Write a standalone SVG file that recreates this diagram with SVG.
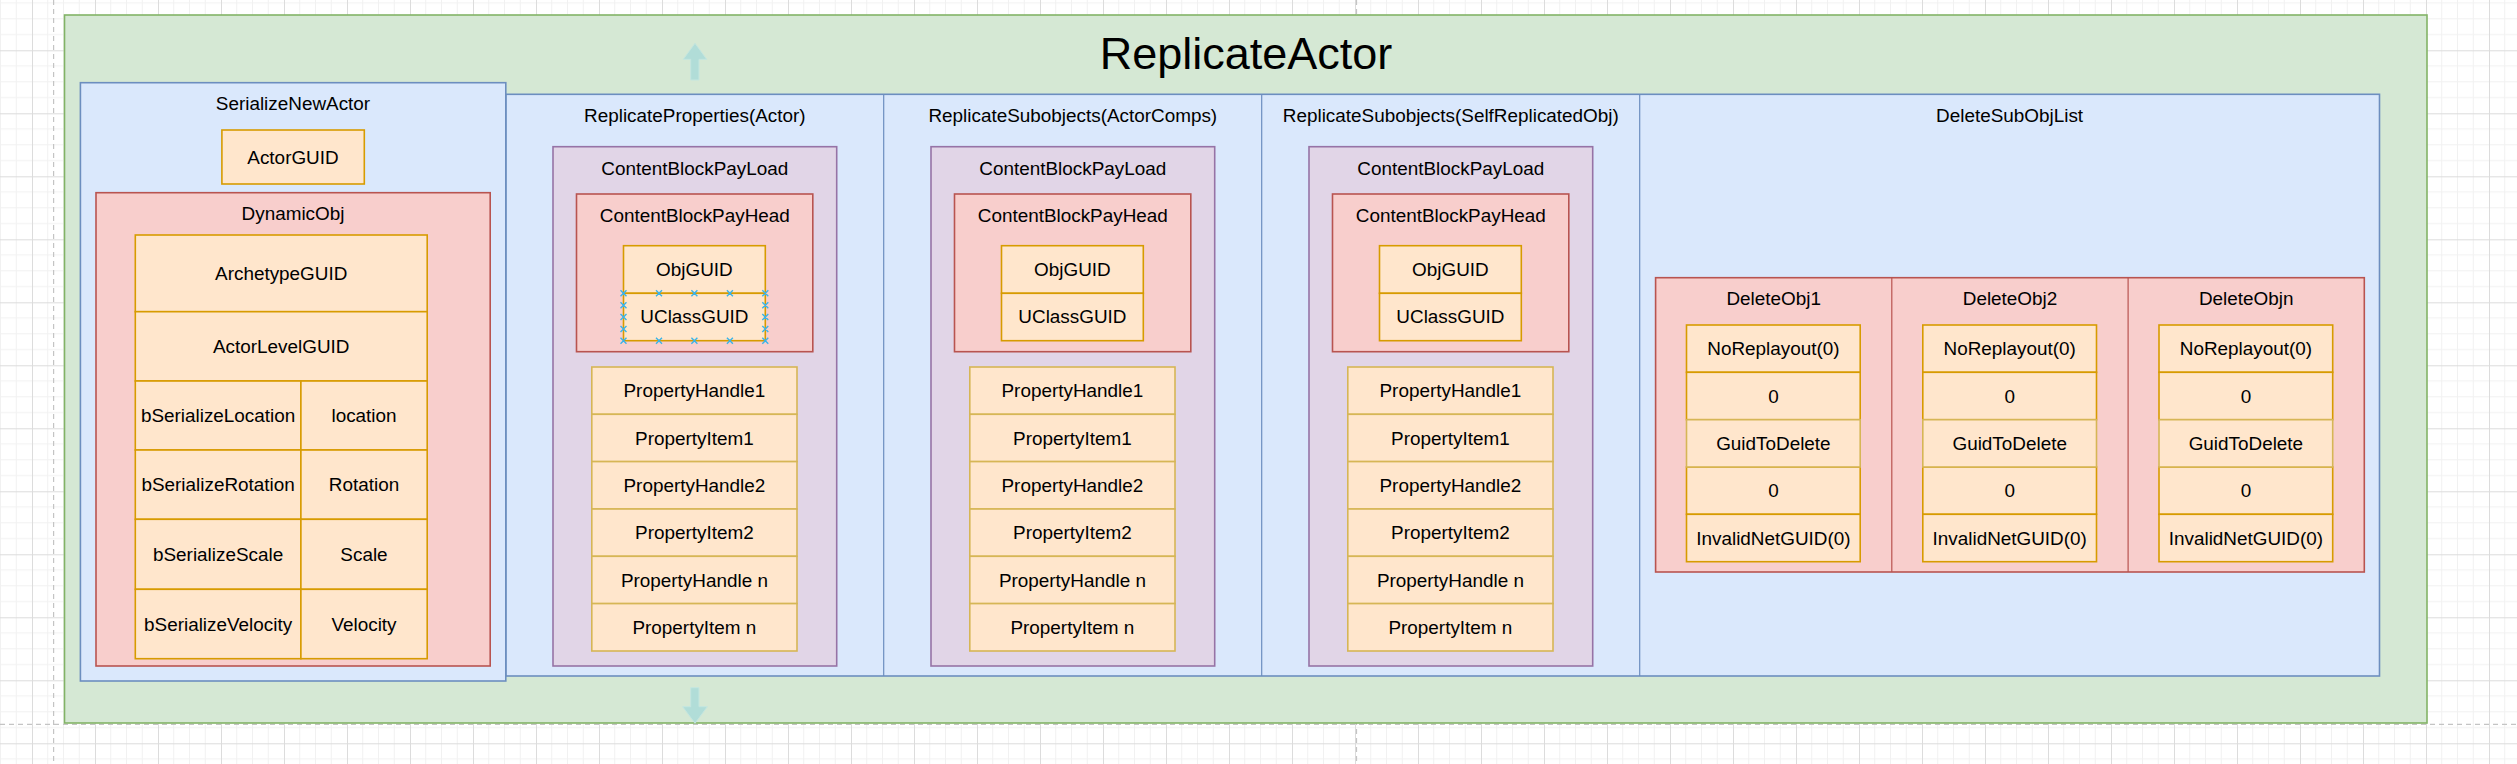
<svg xmlns="http://www.w3.org/2000/svg" width="2517" height="764" viewBox="0 0 2517 764">
<style>
text{font-family:"Liberation Sans",Arial,Helvetica,sans-serif;font-size:18.9px;fill:#000;text-anchor:middle}
.t{font-size:45px}
.g{fill:#d5e8d4;stroke:#82b366;stroke-width:1.6}
.b{fill:#dae8fc;stroke:#6c8ebf;stroke-width:1.6}
.bl{fill:none;stroke:#6c8ebf;stroke-width:1.2}
.p{fill:#e1d5e7;stroke:#9673a6;stroke-width:1.6}
.r{fill:#f8cecc;stroke:#b85450;stroke-width:1.6}
.rl{fill:none;stroke:#b85450;stroke-width:1.2}
.o{fill:#ffe6cc;stroke:#d79b00;stroke-width:1.6}
.y{fill:#ffe6cc;stroke:#d6b656;stroke-width:1.6}
.ar{fill:#b1ddd8;stroke:#c4e6e0;stroke-width:1}
.mk{fill:none;stroke:#3bb4e8;stroke-width:1.4}
.dash{stroke:#c4c4c4;stroke-width:1.2;stroke-dasharray:5 4;fill:none}
</style>
<defs>
<pattern id="grid" patternUnits="userSpaceOnUse" x="32" y="50.3" width="63" height="63">
<path d="M15.75 0V63M31.5 0V63M47.25 0V63M0 15.75H63M0 31.5H63M0 47.25H63" stroke="#f1f1f1" stroke-width="1" fill="none"/>
<path d="M0.5 0V63M0 0.5H63" stroke="#dcdcdc" stroke-width="1" fill="none"/>
</pattern>
</defs>
<rect width="2517" height="764" fill="#ffffff"/>
<rect width="2517" height="764" fill="url(#grid)"/>
<path class="dash" d="M53.6 0V764M1356.5 0V764M0 724.3H2517"/>

<g id="ReplicateActor">
<rect class="g" x="64.5" y="15" width="2362.5" height="708"/>
<text class="t" x="1246" y="69">ReplicateActor</text>
</g>

<g id="arrows">
<path class="ar" d="M695 43.3L706.7 59.3H699V80H690.7V59.3H683.3Z"/>
<path class="ar" d="M695 723.3L707.3 706.7H699V687.7H690.7V706.7H682.7Z"/>
</g>

<g id="ReplicateLists">
<rect class="b" x="505.8" y="94.3" width="1873.7" height="581.7"/>
<path class="bl" d="M883.7 94.3V676M1261.7 94.3V676M1639.7 94.3V676"/>
<text x="694.8" y="122">ReplicateProperties(Actor)</text>
<text x="1072.8" y="122">ReplicateSubobjects(ActorComps)</text>
<text x="1450.8" y="122">ReplicateSubobjects(SelfReplicatedObj)</text>
<text x="2009.6" y="122">DeleteSubObjList</text>
</g>

<g id="SerializeNewActor">
<rect class="b" x="80.4" y="82.7" width="425.4" height="598.3"/>
<text x="293" y="110">SerializeNewActor</text>
<rect class="o" x="221.9" y="130" width="142.4" height="54"/>
<text x="293" y="163.5">ActorGUID</text>
</g>

<g id="DynamicObj">
<rect class="r" x="96" y="192.7" width="394.2" height="473.3"/>
<text x="293" y="220">DynamicObj</text>
<rect class="o" x="135.3" y="235" width="291.9" height="76.7"/>
<text x="281.2" y="279.8">ArchetypeGUID</text>
<rect class="o" x="135.3" y="311.7" width="291.9" height="69.3"/>
<text x="281.2" y="352.8">ActorLevelGUID</text>
<rect class="o" x="135.3" y="381" width="165.6" height="69"/>
<rect class="o" x="300.9" y="381" width="126.3" height="69"/>
<text x="218.1" y="422">bSerializeLocation</text>
<text x="364" y="422">location</text>
<rect class="o" x="135.3" y="450" width="165.6" height="69.3"/>
<rect class="o" x="300.9" y="450" width="126.3" height="69.3"/>
<text x="218.1" y="491.2">bSerializeRotation</text>
<text x="364" y="491.2">Rotation</text>
<rect class="o" x="135.3" y="519.3" width="165.6" height="70"/>
<rect class="o" x="300.9" y="519.3" width="126.3" height="70"/>
<text x="218.1" y="560.8">bSerializeScale</text>
<text x="364" y="560.8">Scale</text>
<rect class="o" x="135.3" y="589.3" width="165.6" height="69.4"/>
<rect class="o" x="300.9" y="589.3" width="126.3" height="69.4"/>
<text x="218.1" y="630.5">bSerializeVelocity</text>
<text x="364" y="630.5">Velocity</text>
</g>

<g id="PayLoad1">
<rect class="p" x="553" y="146.7" width="283.7" height="519.3"/>
<text x="694.8" y="175">ContentBlockPayLoad</text>
<rect class="r" x="576.5" y="194" width="236.3" height="157.7"/>
<text x="694.8" y="222.3">ContentBlockPayHead</text>
<rect class="o" x="623.5" y="245.7" width="141.8" height="47.6"/>
<text x="694.4" y="276">ObjGUID</text>
<rect class="o" x="623.5" y="293.3" width="141.8" height="47.4"/>
<text x="694.4" y="323">UClassGUID</text>
<path class="mk" d="M620.5 290.3l6 6m0-6l-6 6M656 290.3l6 6m0-6l-6 6M691.4 290.3l6 6m0-6l-6 6M726.9 290.3l6 6m0-6l-6 6M762.3 290.3l6 6m0-6l-6 6M620.5 337.7l6 6m0-6l-6 6M656 337.7l6 6m0-6l-6 6M691.4 337.7l6 6m0-6l-6 6M726.9 337.7l6 6m0-6l-6 6M762.3 337.7l6 6m0-6l-6 6M620.5 302.2l6 6m0-6l-6 6M620.5 314l6 6m0-6l-6 6M620.5 325.9l6 6m0-6l-6 6M762.3 302.2l6 6m0-6l-6 6M762.3 314l6 6m0-6l-6 6M762.3 325.9l6 6m0-6l-6 6"/>
<rect class="y" x="591.8" y="367" width="205.2" height="47.3"/>
<text x="694.4" y="397.3">PropertyHandle1</text>
<rect class="y" x="591.8" y="414.3" width="205.2" height="47.3"/>
<text x="694.4" y="444.6">PropertyItem1</text>
<rect class="y" x="591.8" y="461.6" width="205.2" height="47.4"/>
<text x="694.4" y="491.9">PropertyHandle2</text>
<rect class="y" x="591.8" y="509" width="205.2" height="47.3"/>
<text x="694.4" y="539.3">PropertyItem2</text>
<rect class="y" x="591.8" y="556.3" width="205.2" height="47.3"/>
<text x="694.4" y="586.6">PropertyHandle n</text>
<rect class="y" x="591.8" y="603.6" width="205.2" height="47.4"/>
<text x="694.4" y="633.9">PropertyItem n</text>
</g>

<g id="PayLoad2" transform="translate(378 0)">
<rect class="p" x="553" y="146.7" width="283.7" height="519.3"/>
<text x="694.8" y="175">ContentBlockPayLoad</text>
<rect class="r" x="576.5" y="194" width="236.3" height="157.7"/>
<text x="694.8" y="222.3">ContentBlockPayHead</text>
<rect class="o" x="623.5" y="245.7" width="141.8" height="47.6"/>
<text x="694.4" y="276">ObjGUID</text>
<rect class="o" x="623.5" y="293.3" width="141.8" height="47.4"/>
<text x="694.4" y="323">UClassGUID</text>
<rect class="y" x="591.8" y="367" width="205.2" height="47.3"/>
<text x="694.4" y="397.3">PropertyHandle1</text>
<rect class="y" x="591.8" y="414.3" width="205.2" height="47.3"/>
<text x="694.4" y="444.6">PropertyItem1</text>
<rect class="y" x="591.8" y="461.6" width="205.2" height="47.4"/>
<text x="694.4" y="491.9">PropertyHandle2</text>
<rect class="y" x="591.8" y="509" width="205.2" height="47.3"/>
<text x="694.4" y="539.3">PropertyItem2</text>
<rect class="y" x="591.8" y="556.3" width="205.2" height="47.3"/>
<text x="694.4" y="586.6">PropertyHandle n</text>
<rect class="y" x="591.8" y="603.6" width="205.2" height="47.4"/>
<text x="694.4" y="633.9">PropertyItem n</text>
</g>

<g id="PayLoad3" transform="translate(756 0)">
<rect class="p" x="553" y="146.7" width="283.7" height="519.3"/>
<text x="694.8" y="175">ContentBlockPayLoad</text>
<rect class="r" x="576.5" y="194" width="236.3" height="157.7"/>
<text x="694.8" y="222.3">ContentBlockPayHead</text>
<rect class="o" x="623.5" y="245.7" width="141.8" height="47.6"/>
<text x="694.4" y="276">ObjGUID</text>
<rect class="o" x="623.5" y="293.3" width="141.8" height="47.4"/>
<text x="694.4" y="323">UClassGUID</text>
<rect class="y" x="591.8" y="367" width="205.2" height="47.3"/>
<text x="694.4" y="397.3">PropertyHandle1</text>
<rect class="y" x="591.8" y="414.3" width="205.2" height="47.3"/>
<text x="694.4" y="444.6">PropertyItem1</text>
<rect class="y" x="591.8" y="461.6" width="205.2" height="47.4"/>
<text x="694.4" y="491.9">PropertyHandle2</text>
<rect class="y" x="591.8" y="509" width="205.2" height="47.3"/>
<text x="694.4" y="539.3">PropertyItem2</text>
<rect class="y" x="591.8" y="556.3" width="205.2" height="47.3"/>
<text x="694.4" y="586.6">PropertyHandle n</text>
<rect class="y" x="591.8" y="603.6" width="205.2" height="47.4"/>
<text x="694.4" y="633.9">PropertyItem n</text>
</g>

<g id="DeleteObjList">
<rect class="r" x="1655.6" y="277.7" width="708.7" height="294.3"/>
<path class="rl" d="M1891.8 277.7V572M2128.1 277.7V572"/>
</g>

<g id="DeleteObj1">
<text x="1773.7" y="305">DeleteObj1</text>
<rect class="o" x="1686.5" y="325" width="173.7" height="47.3"/>
<text x="1773.4" y="355.3">NoReplayout(0)</text>
<rect class="o" x="1686.5" y="372.3" width="173.7" height="47.4"/>
<text x="1773.4" y="402.6">0</text>
<rect class="o" x="1686.5" y="467" width="173.7" height="47.3"/>
<text x="1773.4" y="497.3">0</text>
<rect class="o" x="1686.5" y="514.3" width="173.7" height="47.4"/>
<text x="1773.4" y="544.6">InvalidNetGUID(0)</text>
<rect class="y" x="1686.5" y="419.7" width="173.7" height="47.3"/>
<text x="1773.4" y="450">GuidToDelete</text>
</g>

<g id="DeleteObj2" transform="translate(236.3 0)">
<text x="1773.7" y="305">DeleteObj2</text>
<rect class="o" x="1686.5" y="325" width="173.7" height="47.3"/>
<text x="1773.4" y="355.3">NoReplayout(0)</text>
<rect class="o" x="1686.5" y="372.3" width="173.7" height="47.4"/>
<text x="1773.4" y="402.6">0</text>
<rect class="o" x="1686.5" y="467" width="173.7" height="47.3"/>
<text x="1773.4" y="497.3">0</text>
<rect class="o" x="1686.5" y="514.3" width="173.7" height="47.4"/>
<text x="1773.4" y="544.6">InvalidNetGUID(0)</text>
<rect class="y" x="1686.5" y="419.7" width="173.7" height="47.3"/>
<text x="1773.4" y="450">GuidToDelete</text>
</g>

<g id="DeleteObjn" transform="translate(472.5 0)">
<text x="1773.7" y="305">DeleteObjn</text>
<rect class="o" x="1686.5" y="325" width="173.7" height="47.3"/>
<text x="1773.4" y="355.3">NoReplayout(0)</text>
<rect class="o" x="1686.5" y="372.3" width="173.7" height="47.4"/>
<text x="1773.4" y="402.6">0</text>
<rect class="o" x="1686.5" y="467" width="173.7" height="47.3"/>
<text x="1773.4" y="497.3">0</text>
<rect class="o" x="1686.5" y="514.3" width="173.7" height="47.4"/>
<text x="1773.4" y="544.6">InvalidNetGUID(0)</text>
<rect class="y" x="1686.5" y="419.7" width="173.7" height="47.3"/>
<text x="1773.4" y="450">GuidToDelete</text>
</g>

<g id="connectors"></g>
</svg>
